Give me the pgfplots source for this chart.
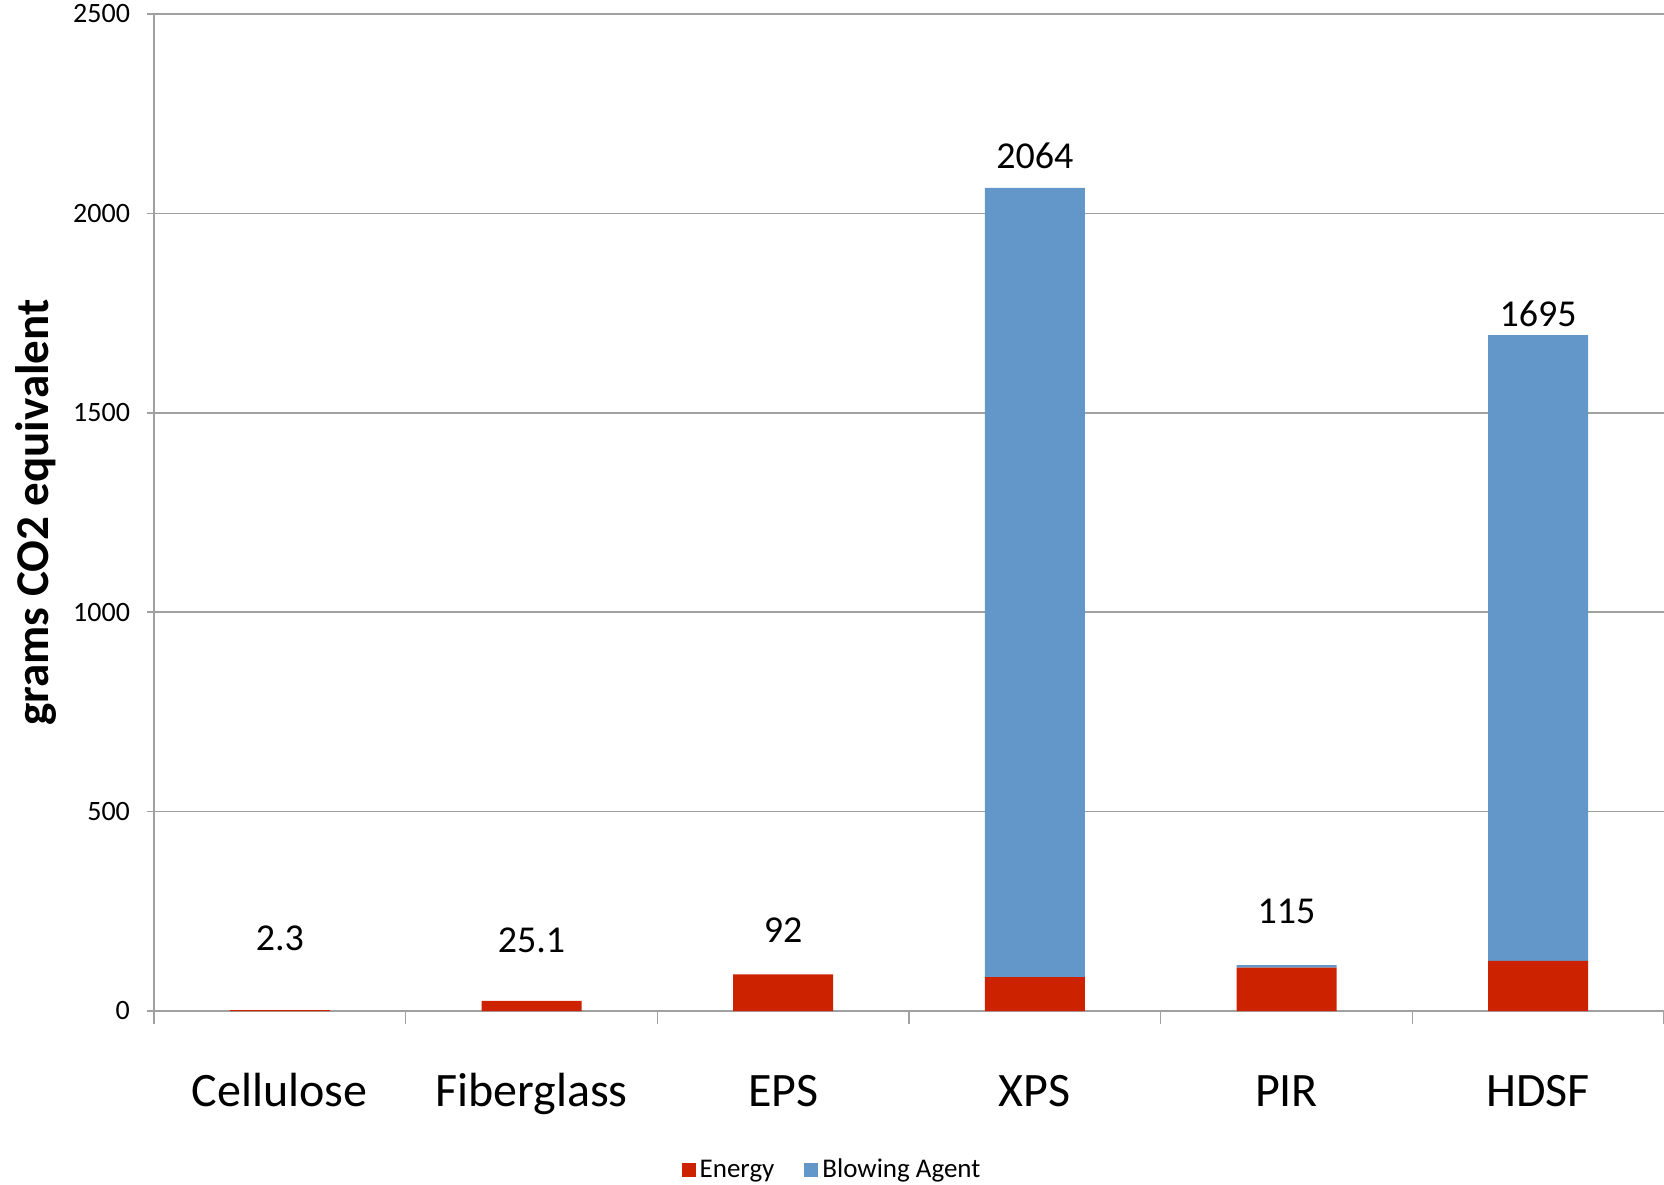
\documentclass[border=0pt]{standalone}
\usepackage{fontspec}
\setmainfont{Carlito}
\usepackage{pgfplots}
\pgfplotsset{compat=1.18}
\definecolor{energy}{RGB}{204,34,0}
\definecolor{blowing}{RGB}{99,150,201}
\definecolor{gridgray}{RGB}{160,160,160}

\begin{document}
\begin{tikzpicture}
\begin{axis}[
  name=ax,
  scale only axis,
  width=755pt, height=498.5pt,
  ybar stacked,
  bar width=50pt,
  xmin=-0.5, xmax=5.5,
  ymin=0, ymax=2500,
  ytick={0,500,...,2500},
  xtick={0,1,2,3,4,5},
  xticklabels={Cellulose,Fiberglass,EPS,XPS,PIR,HDSF},
  minor xtick={-0.5,0.5,...,5.5},
  major x tick style={draw=none},
  xticklabel style={font=\fontsize{24}{29}\selectfont, anchor=base, yshift=-44pt},
  axis x line=bottom, axis y line=left,
  axis line style={gridgray, line width=0.8pt, -},
  tick align=outside,
  major tick length=3.5pt,
  minor tick length=6.5pt,
  tick style={gridgray, line width=0.8pt},
  ymajorgrids, grid style={gridgray, line width=0.8pt},
  yticklabel style={font=\fontsize{14}{17}\selectfont, xshift=-5pt},
  /pgf/number format/assume math mode=true,
  /pgf/number format/1000 sep={},
  ylabel={grams CO2 equivalent},
  ylabel style={font=\fontsize{23.5}{28}\selectfont\bfseries, at={(axis description cs:-0.078,0.5)}, anchor=center},
  legend style={at={(axis description cs:0.4497,0)}, anchor=center, yshift=-79.5pt,
    draw=none, font=\fontsize{13.5}{16}\selectfont},
  legend columns=2,
  legend image code/.code={\fill (0pt,-3.5pt) rectangle (7pt,3.5pt);},
]
\addplot[fill=energy, draw=none] coordinates {
  (0,2.3) (1,25.1) (2,92) (3,85) (4,109) (5,126)};
\addlegendentry{Energy\rule{13pt}{0pt}}
\addplot[fill=blowing, draw=none] coordinates {
  (0,0) (1,0) (2,0) (3,1979) (4,6) (5,1569)};
\addlegendentry{Blowing Agent}
\node[font=\fontsize{19}{23}\selectfont] at (axis cs:0,183) {2.3};
\node[font=\fontsize{19}{23}\selectfont] at (axis cs:1,178) {25.1};
\node[font=\fontsize{19}{23}\selectfont] at (axis cs:2,203) {92};
\node[font=\fontsize{19}{23}\selectfont] at (axis cs:3,2144) {2064};
\node[font=\fontsize{19}{23}\selectfont] at (axis cs:4,251) {115};
\node[font=\fontsize{19}{23}\selectfont] at (axis cs:5,1748) {1695};
\end{axis}
\pgfresetboundingbox
\path[use as bounding box] ([xshift=-77pt,yshift=-86.5pt]ax.south west) rectangle ([yshift=7pt]ax.north east);
\end{tikzpicture}
\end{document}
